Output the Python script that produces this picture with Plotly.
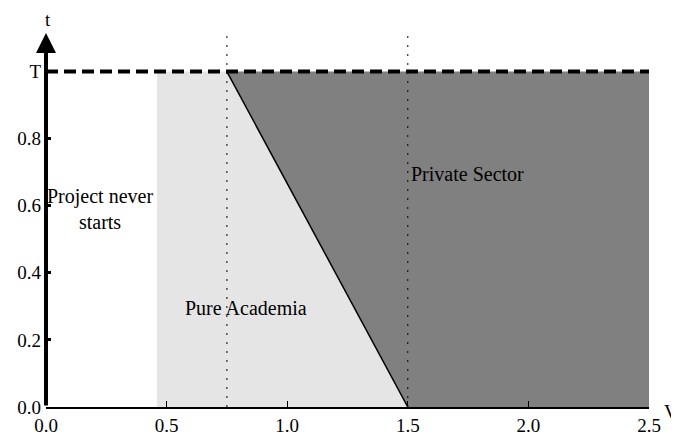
import plotly.graph_objects as go

# region boundaries
academia_x = [0.46, 0.46, 0.75, 1.5]
academia_y = [0, 1, 1, 0]
private_x = [0.75, 2.5, 2.5, 1.5]
private_y = [1, 1, 0, 0]
frontier_x = [0.75, 1.5]
frontier_y = [1, 0]
T_x = [0, 2.5]
T_y = [1, 1]
guides_x = [0.75, 1.5]
guide_top = 1.115

x_ticks = [0, 0.5, 1.0, 1.5, 2.0, 2.5]
x_labels = ["0.0", "0.5", "1.0", "1.5", "2.0", "2.5"]
y_ticks = [0, 0.2, 0.4, 0.6, 0.8, 1.0]
y_labels = ["0.0", "0.2", "0.4", "0.6", "0.8", "T"]

font = dict(family="Liberation Serif", size=19, color="black")
label_font = dict(family="Liberation Serif", size=20, color="black")

fig = go.Figure()
fig.add_trace(go.Scatter(x=academia_x, y=academia_y, fill="toself", fillcolor="#e5e5e5",
                         mode="none", hoverinfo="skip"))
fig.add_trace(go.Scatter(x=private_x, y=private_y, fill="toself", fillcolor="#808080",
                         mode="none", hoverinfo="skip"))
fig.add_trace(go.Scatter(x=frontier_x, y=frontier_y, mode="lines",
                         line=dict(color="black", width=1.5)))
for gx in guides_x:
    fig.add_trace(go.Scatter(x=[gx, gx], y=[0, guide_top], mode="lines",
                             line=dict(color="black", width=1, dash="2px,7px")))
fig.add_trace(go.Scatter(x=T_x, y=T_y, mode="lines", cliponaxis=False,
                         line=dict(color="black", width=4, dash="12px,6px")))

# thick y axis with arrow head
fig.add_annotation(x=0, y=guide_top, ax=0, ay=0, axref="x", ayref="y", xref="x", yref="y",
                   showarrow=True, arrowhead=2, arrowsize=1, arrowwidth=4, arrowcolor="black",
                   text="")

fig.add_annotation(x=0.225, y=0.59, text="Project never<br>starts", showarrow=False,
                   font=label_font)
fig.add_annotation(x=0.83, y=0.295, text="Pure Academia", showarrow=False, font=label_font)
fig.add_annotation(x=1.505, y=0.695, text="Private Sector", showarrow=False, font=label_font,
                   xanchor="left")
fig.add_annotation(x=-0.005, y=1.035, xref="paper", yref="paper", text="t", showarrow=False,
                   font=font, yanchor="middle")
fig.add_annotation(x=1.022, y=-0.011, xref="paper", yref="paper", text="V", showarrow=False,
                   font=font, xanchor="left", yanchor="middle")

# page body adds an 8px offset, so margins are shifted by 8
fig.update_layout(
    width=679, height=440,
    margin=dict(l=38, r=38, t=25, b=41),
    plot_bgcolor="white", paper_bgcolor="white",
    showlegend=False,
    font=font,
)
fig.update_xaxes(range=[0, 2.5], tickvals=x_ticks, ticktext=x_labels, showgrid=False,
                 zeroline=False, showline=True, linecolor="black", linewidth=1.5,
                 ticks="inside", ticklen=6, tickwidth=1, tickcolor="black", automargin=False)
fig.update_yaxes(range=[0, guide_top], tickvals=y_ticks, ticktext=y_labels, showgrid=False,
                 zeroline=False, showline=False, automargin=False, ticklabelstandoff=4,
                 ticks="inside", ticklen=5, tickwidth=3, tickcolor="black")

fig.write_html("out.html")
